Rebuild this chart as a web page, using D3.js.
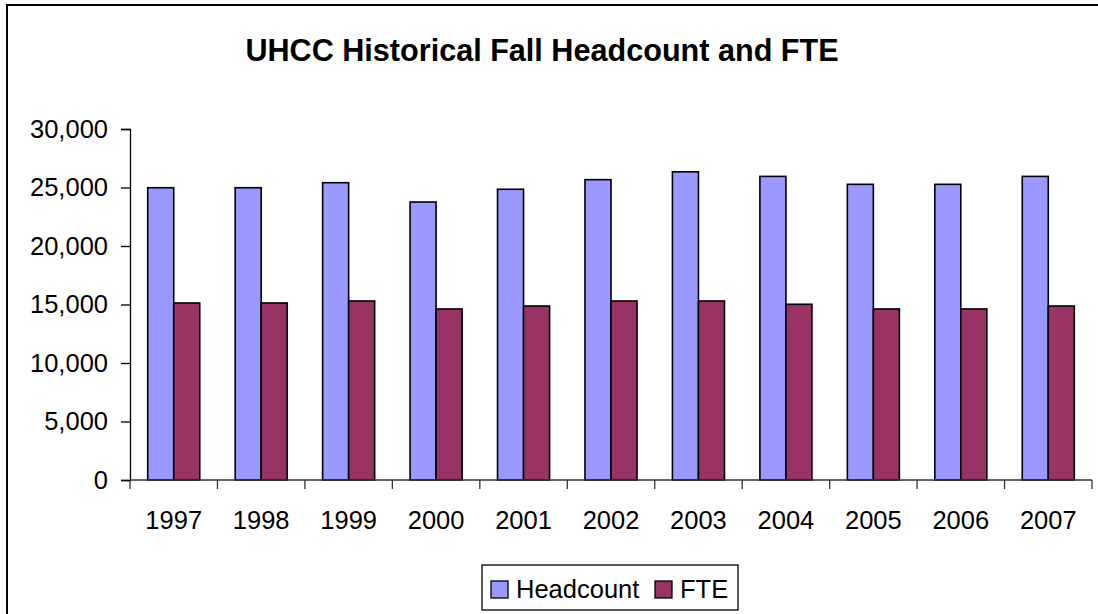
<!DOCTYPE html>
<html>
<head>
<meta charset="utf-8">
<script src="https://cdn.jsdelivr.net/npm/d3@7"></script>
<style>
  body { margin: 0; background: #fff; }
  text { font-family: "Liberation Sans", Arial, sans-serif; fill: #000; }
</style>
</head>
<body>
<div id="chart"></div>
<script>
// data
const years = ["1997", "1998", "1999", "2000", "2001", "2002", "2003", "2004", "2005", "2006", "2007"];
const headcount = [24980, 24980, 25410, 23760, 24850, 25670, 26340, 25950, 25270, 25270, 25950];
const fte = [15130, 15130, 15300, 14620, 14870, 15300, 15300, 15020, 14620, 14620, 14870];
const seriesNames = ["Headcount", "FTE"];
const seriesColors = ["#9999FF", "#993366"];
const yTicks = [0, 5000, 10000, 15000, 20000, 25000, 30000];

const width = 1098, height = 614;
const margin = { top: 129, right: 6, bottom: 134, left: 130 };
const labelSize = "25.5px";

const svg = d3.select("#chart").append("svg")
  .attr("width", width)
  .attr("height", height);

// chart frame (cut off at the right and bottom in the original)
svg.append("rect")
  .attr("x", 7).attr("y", 5)
  .attr("width", width + 20).attr("height", height + 20)
  .attr("fill", "#fff")
  .attr("stroke", "#000")
  .attr("stroke-width", 2);

svg.append("text")
  .attr("x", 542)
  .attr("y", 61)
  .attr("text-anchor", "middle")
  .style("font-size", "30.6px")
  .style("font-weight", "bold")
  .text("UHCC Historical Fall Headcount and FTE");

const x = d3.scaleBand()
  .domain(years)
  .range([margin.left, width - margin.right])
  .paddingInner(0.405)
  .paddingOuter(0.2025);

const xOuter = d3.scaleBand()
  .domain(years)
  .range([margin.left, width - margin.right]);

const xSub = d3.scaleBand()
  .domain(seriesNames)
  .range([0, x.bandwidth()]);

const y = d3.scaleLinear()
  .domain([0, 30000])
  .range([height - margin.bottom, margin.top]);

// bars
const rows = years.map((yr, i) => ({ year: yr, values: [headcount[i], fte[i]] }));

const groups = svg.selectAll(".grp")
  .data(rows)
  .enter().append("g")
    .attr("class", "grp")
    .attr("transform", d => `translate(${x(d.year)},0)`);

groups.selectAll("rect")
  .data(d => d.values.map((v, j) => ({ name: seriesNames[j], value: v, color: seriesColors[j] })))
  .enter().append("rect")
    .attr("x", d => xSub(d.name))
    .attr("y", d => y(d.value))
    .attr("width", xSub.bandwidth())
    .attr("height", d => y(0) - y(d.value))
    .attr("fill", d => d.color)
    .attr("stroke", "#000")
    .attr("stroke-width", 1.6);

// y axis
const yAxis = svg.append("g")
  .attr("transform", `translate(${margin.left},0)`)
  .call(d3.axisLeft(y).tickValues(yTicks).tickSize(9).tickPadding(13).tickFormat(d3.format(",")));
yAxis.select(".domain").attr("stroke", "#000").attr("stroke-width", 1.3);
yAxis.selectAll(".tick line").attr("stroke", "#000").attr("stroke-width", 1.3);
yAxis.selectAll("text").style("font-size", labelSize).attr("fill", "#000");

// x axis: ticks at category boundaries
const xAxis = svg.append("g")
  .attr("transform", `translate(0,${y(0)})`);
xAxis.append("line")
  .attr("x1", margin.left).attr("x2", width - margin.right)
  .attr("stroke", "#333").attr("stroke-width", 1.3);
xAxis.selectAll(".xt")
  .data(years.concat(["end"]))
  .enter().append("line")
    .attr("class", "xt")
    .attr("x1", (d, i) => i < years.length ? xOuter(d) : width - margin.right)
    .attr("x2", (d, i) => i < years.length ? xOuter(d) : width - margin.right)
    .attr("y1", 0).attr("y2", 9)
    .attr("stroke", "#333").attr("stroke-width", 1.3);
xAxis.selectAll(".xl")
  .data(years)
  .enter().append("text")
    .attr("class", "xl")
    .attr("x", d => xOuter(d) + xOuter.bandwidth() / 2)
    .attr("y", 49)
    .attr("text-anchor", "middle")
    .style("font-size", labelSize)
    .text(d => d);

// legend
const legend = svg.append("g")
  .attr("transform", "translate(482,565)");
legend.append("rect")
  .attr("width", 256).attr("height", 45)
  .attr("fill", "#fff").attr("stroke", "#000").attr("stroke-width", 1.3);

const legendX = [9, 173];
seriesNames.forEach((name, i) => {
  legend.append("rect")
    .attr("x", legendX[i]).attr("y", 16)
    .attr("width", 17).attr("height", 17)
    .attr("fill", seriesColors[i])
    .attr("stroke", "#000").attr("stroke-width", 1.3);
  legend.append("text")
    .attr("x", legendX[i] + 25)
    .attr("y", 33)
    .style("font-size", labelSize)
    .text(name);
});
</script>
</body>
</html>
